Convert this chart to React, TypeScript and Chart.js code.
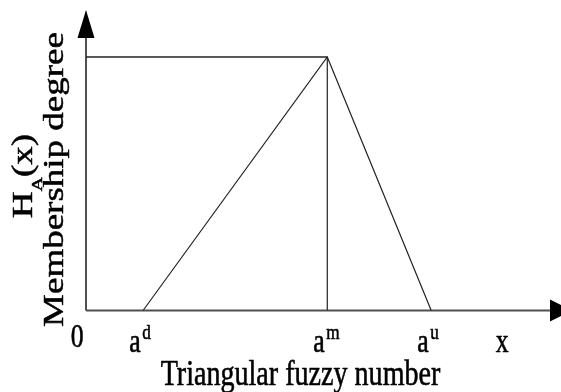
import React, { useEffect, useRef } from "react";
import { Chart, registerables } from "chart.js";

Chart.register(...registerables);

// ---- data ----
const xMax = 100;
const yMax = 1.075;
const triangleX = [12.3, 52, 74.4];
const triangleY = [0, 1, 0];
const peakLineX = [52, 52];
const peakLineY = [0, 1];
const topLineX = [0, 52];
const topLineY = [1, 1];
const tickValues = [0, 12.3, 52, 74.4, 91.6];
const tickMain = ["0", "a", "a", "a", "x"];
const tickSup = ["", "d", "m", "u", ""];
const xTitle = "Triangular fuzzy number";
const yTitle = "Membership degree";
const yFunction = ["H", "A", "(x)"];

const SQ = 0.78;
const FONT = '"Liberation Serif", "Times New Roman", serif';

const toPoints = (xs: number[], ys: number[]) => xs.map((x, i) => ({ x, y: ys[i] }));

const drawText = (ctx: any, t: string, x: number, y: number) => {
  ctx.fillText(t, x, y);
  ctx.strokeText(t, x, y);
};

const annotPlugin = {
  id: "annot",
  beforeDatasetsDraw(chart: any) {
    const { ctx, scales } = chart;
    const xs = scales.x;
    const ys = scales.y;
    const x0 = xs.getPixelForValue(0);
    const y0 = ys.getPixelForValue(0);
    const xEnd = xs.right;
    const yEnd = ys.top;
    ctx.save();
    ctx.strokeStyle = "#505050";
    ctx.lineWidth = 2;
    ctx.beginPath();
    ctx.moveTo(x0, y0);
    ctx.lineTo(xEnd, y0);
    ctx.moveTo(x0, y0);
    ctx.lineTo(x0, yEnd);
    ctx.stroke();
    ctx.fillStyle = "#000";
    ctx.beginPath();
    ctx.moveTo(x0 - 8.5, yEnd);
    ctx.lineTo(x0 + 8.5, yEnd);
    ctx.lineTo(x0, yEnd - 28);
    ctx.closePath();
    ctx.fill();
    ctx.beginPath();
    ctx.moveTo(xEnd, y0 - 11);
    ctx.lineTo(xEnd, y0 + 11);
    ctx.lineTo(xEnd + 22, y0);
    ctx.closePath();
    ctx.fill();
    ctx.restore();
  },
  afterDraw(chart: any) {
    const { ctx, scales } = chart;
    const xs = scales.x;
    const ys = scales.y;
    const y0 = ys.getPixelForValue(0);
    ctx.save();
    ctx.fillStyle = "#000";
    ctx.strokeStyle = "#000";
    ctx.lineWidth = 0.6;
    ctx.lineJoin = "round";
    ctx.textBaseline = "alphabetic";
    // tick labels
    tickValues.forEach((v, i) => {
      const px = xs.getPixelForValue(v);
      const base = tickMain[i] === "0" ? y0 + 36.5 : y0 + 41.5;
      ctx.save();
      ctx.translate(px - 2.5, base);
      ctx.scale(SQ, 1);
      ctx.font = `33px ${FONT}`;
      ctx.textAlign = "right";
      drawText(ctx, tickMain[i], 0, 0);
      if (tickSup[i]) {
        ctx.font = `22px ${FONT}`;
        ctx.textAlign = "left";
        drawText(ctx, tickSup[i], 2, -13);
      }
      ctx.restore();
    });
    // x title
    ctx.save();
    ctx.translate(300.5, 385);
    ctx.scale(SQ, 1);
    ctx.font = `36px ${FONT}`;
    ctx.textAlign = "center";
    drawText(ctx, xTitle, 0, 0);
    ctx.restore();
    // y title
    ctx.save();
    ctx.translate(63, 179.5);
    ctx.scale(SQ, 1);
    ctx.rotate(-Math.PI / 2);
    ctx.font = `37px ${FONT}`;
    ctx.textAlign = "center";
    drawText(ctx, yTitle, 0, 0);
    ctx.restore();
    // H_A(x)
    ctx.save();
    ctx.translate(32, 176);
    ctx.scale(SQ, 1);
    ctx.rotate(-Math.PI / 2);
    ctx.textAlign = "left";
    ctx.font = `37px ${FONT}`;
    const wH = ctx.measureText(yFunction[0]).width;
    const wP = ctx.measureText(yFunction[2]).width;
    ctx.font = `20px ${FONT}`;
    const wA = ctx.measureText(yFunction[1]).width;
    let cx = -(wH + wA + wP) / 2;
    ctx.font = `37px ${FONT}`;
    drawText(ctx, yFunction[0], cx, 0);
    cx += wH;
    ctx.font = `20px ${FONT}`;
    drawText(ctx, yFunction[1], cx, 13);
    cx += wA;
    ctx.font = `37px ${FONT}`;
    drawText(ctx, yFunction[2], cx, 0);
    ctx.restore();
    ctx.restore();
  },
};

export default function App() {
  const ref = useRef<HTMLCanvasElement | null>(null);
  useEffect(() => {
    document.body.style.margin = "0";
    if (!ref.current) return;
    const lineStyle = {
      showLine: true,
      pointRadius: 0,
      borderWidth: 1.2,
      borderColor: "#222",
      fill: false,
      tension: 0,
    };
    const chart = new Chart(ref.current, {
      type: "scatter",
      data: {
        datasets: [
          { ...lineStyle, data: toPoints(triangleX, triangleY) },
          { ...lineStyle, data: toPoints(peakLineX, peakLineY) },
          { ...lineStyle, borderWidth: 1.5, data: toPoints(topLineX, topLineY) },
        ],
      },
      options: {
        responsive: false,
        animation: false,
        layout: { padding: { left: 86, right: 11, top: 38, bottom: 81.5 } },
        scales: {
          x: { type: "linear", min: 0, max: xMax, display: false },
          y: { type: "linear", min: 0, max: yMax, display: false },
        },
        plugins: { legend: { display: false }, tooltip: { enabled: false } },
      },
      plugins: [annotPlugin],
    } as any);
    return () => chart.destroy();
  }, []);
  return <canvas ref={ref} width={561} height={392} style={{ display: "block" }} />;
}
